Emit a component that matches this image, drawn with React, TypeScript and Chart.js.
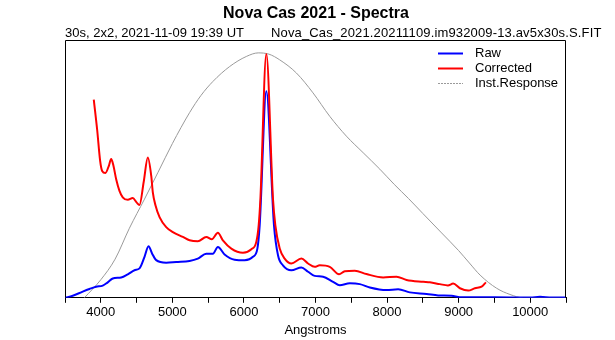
import React, { useEffect, useRef } from "react";
import { Chart, registerables } from "chart.js";

Chart.register(...registerables);

const TITLE = "Nova Cas 2021 - Spectra";
const SUB_LEFT = "30s, 2x2, 2021-11-09 19:39 UT";
const SUB_RIGHT = "Nova_Cas_2021.20211109.im932009-13.av5x30s.S.FIT";
const X_TITLE = "Angstroms";

const X_MIN = 3500;
const X_MAX = 10500;
const X_STEP = 500;
const X_LABEL_STEP = 1000;

const RAW_WL = [3500, 3608, 3748, 3841, 3935, 4027, 4097, 4167, 4285, 4377, 4471, 4541, 4611, 4667, 4718, 4774, 4914, 5054, 5240, 5356, 5474, 5566, 5636, 5730, 5870, 6010, 6126, 6188, 6220, 6313, 6420, 6476, 6545, 6663, 6803, 6896, 6989, 7106, 7245, 7339, 7479, 7619, 7759, 7992, 8155, 8318, 8552, 8714, 8902, 9018, 9500, 10000, 10137, 10300, 10500];
const RAW_VAL = [0, 0.8, 2.4, 3.4, 4.3, 4.7, 6.0, 7.5, 7.9, 9.1, 10.7, 11.4, 15.9, 20.0, 17.1, 14.6, 13.6, 13.9, 14.3, 15.2, 17.1, 17.1, 19.7, 16.8, 14.8, 14.6, 15.9, 19.1, 28.1, 80.1, 28.1, 16.5, 12.6, 10.7, 11.8, 10.1, 8.5, 8.2, 6.2, 4.9, 5.6, 5.3, 4.0, 3.0, 3.3, 2.1, 1.5, 0.9, 0.8, 0.2, 0.2, 0.1, 0.4, 0.1, 0.1];

const COR_WL = [3902, 3950, 3991, 4019, 4065, 4110, 4145, 4177, 4215, 4261, 4307, 4377, 4447, 4500, 4541, 4600, 4657, 4705, 4727, 4765, 4821, 4914, 5007, 5147, 5240, 5356, 5474, 5552, 5636, 5706, 5824, 5986, 6104, 6173, 6206, 6230, 6313, 6406, 6439, 6500, 6569, 6663, 6803, 6896, 6989, 7059, 7199, 7329, 7409, 7549, 7712, 7945, 8132, 8272, 8504, 8598, 8738, 8850, 8924, 9018, 9134, 9227, 9321, 9381];
const COR_VAL = [76.9, 65.0, 53.1, 49.2, 48.4, 51.0, 53.8, 51.2, 46.0, 41.5, 39.0, 38.0, 38.7, 37.0, 36.0, 45.0, 54.4, 47.3, 40.9, 35.8, 31.3, 27.4, 25.5, 23.6, 22.3, 21.9, 23.6, 22.7, 25.2, 22.3, 19.1, 17.5, 18.8, 21.7, 28.1, 38.3, 94.6, 38.3, 28.1, 19.1, 15.2, 13.3, 15.2, 13.3, 12.0, 12.6, 12.0, 9.1, 10.3, 10.5, 9.2, 7.9, 8.2, 6.9, 6.2, 6.0, 5.3, 4.8, 5.5, 3.7, 2.8, 3.7, 4.3, 6.0];

const INST_WL = [3771, 4000, 4200, 4400, 4611, 4800, 5000, 5240, 5400, 5566, 5800, 6033, 6200, 6350, 6500, 6733, 6965, 7199, 7432, 7665, 7899, 8100, 8300, 8500, 8750, 9000, 9150, 9300, 9531, 9717, 9903, 10500];
const INST_VAL = [0, 7.0, 15.0, 27.0, 38.3, 48.7, 59.8, 71.8, 78.5, 83.9, 89.7, 93.6, 95.0, 94.5, 92.3, 87.2, 79.5, 70.4, 62.7, 56.3, 49.9, 44.0, 38.5, 32.7, 25.5, 18.3, 13.5, 8.8, 3.7, 1.3, 0, 0];

const FONT = '"Liberation Sans", Arial, sans-serif';

const toPoints = (xs: number[], ys: number[]) => xs.map((x, i) => ({ x, y: ys[i] }));

const decorPlugin = {
  id: "decor",
  afterDraw(chart: any) {
    const { ctx, chartArea: a } = chart;
    ctx.save();
    // frame
    ctx.strokeStyle = "#000";
    ctx.lineWidth = 1;
    const l = Math.round(a.left) + 0.5;
    const r = Math.round(a.right) - 0.5;
    const t = Math.round(a.top) + 0.5;
    const b = Math.round(a.bottom) - 0.5;
    ctx.beginPath();
    ctx.moveTo(l, b);
    ctx.lineTo(l, t);
    ctx.lineTo(r, t);
    ctx.lineTo(r, b);
    ctx.stroke();

    // titles
    ctx.fillStyle = "#000";
    ctx.textBaseline = "alphabetic";
    ctx.font = `bold 16px ${FONT}`;
    ctx.textAlign = "center";
    ctx.fillText(TITLE, 316, 18);
    ctx.font = `13px ${FONT}`;
    ctx.textAlign = "left";
    ctx.fillText(SUB_LEFT, 65, 37);
    (ctx as any).letterSpacing = "0.15px";
    ctx.fillText(SUB_RIGHT, 271, 37);
    (ctx as any).letterSpacing = "0px";

    // legend
    ctx.font = `13px ${FONT}`;
    ctx.textBaseline = "middle";
    chart.data.datasets.forEach((ds: any, i: number) => {
      const y = Math.round(a.top + 12.7 + i * 15.3) + 0.5;
      ctx.beginPath();
      ctx.strokeStyle = ds.borderColor;
      ctx.lineWidth = i === 2 ? 1 : 2;
      ctx.setLineDash(i === 2 ? [2, 1] : []);
      ctx.moveTo(a.right - 128, y);
      ctx.lineTo(a.right - 103, y);
      ctx.stroke();
      ctx.setLineDash([]);
      ctx.fillStyle = "#000";
      ctx.fillText(ds.label, a.right - 91, y);
    });
    ctx.restore();
  },
};

export default function App() {
  const ref = useRef<HTMLCanvasElement | null>(null);

  useEffect(() => {
    document.body.style.margin = "0";
    const canvas = ref.current;
    if (!canvas) return;
    const chart = new Chart(canvas, {
      type: "line",
      data: {
        datasets: [
          {
            label: "Raw",
            data: toPoints(RAW_WL, RAW_VAL),
            borderColor: "#0000ff",
            borderWidth: 2,
            pointRadius: 0,
            cubicInterpolationMode: "monotone",
            order: 2,
          },
          {
            label: "Corrected",
            data: toPoints(COR_WL, COR_VAL),
            borderColor: "#ff0000",
            borderWidth: 2,
            pointRadius: 0,
            cubicInterpolationMode: "monotone",
            order: 1,
          },
          {
            label: "Inst.Response",
            data: toPoints(INST_WL, INST_VAL),
            borderColor: "#9a9a9a",
            borderWidth: 1,
            pointRadius: 0,
            cubicInterpolationMode: "monotone",
            order: 3,
          },
        ],
      },
      options: {
        responsive: false,
        animation: false,
        devicePixelRatio: 1,
        layout: { padding: { top: 40, left: 65, right: 49, bottom: 0 } },
        font: { family: FONT },
        plugins: {
          legend: { display: false },
          tooltip: { enabled: false },
          title: { display: false },
        },
        scales: {
          x: {
            type: "linear",
            min: X_MIN,
            max: X_MAX,
            ticks: {
              stepSize: X_STEP,
              autoSkip: false,
              maxRotation: 0,
              padding: 2,
              color: "#000",
              font: { family: FONT, size: 13 },
              callback: (v: any) => (Number(v) % X_LABEL_STEP === 0 ? String(v) : ""),
            },
            grid: { drawOnChartArea: false, drawTicks: true, tickLength: 5, color: "#000" },
            border: { display: true, color: "#000", width: 1 },
            title: {
              display: true,
              text: X_TITLE,
              color: "#000",
              font: { family: FONT, size: 13 },
              padding: { top: 0, bottom: 2 },
            },
          },
          y: { display: false, min: 0, max: 100 },
        },
      },
      plugins: [decorPlugin],
    } as any);
    return () => chart.destroy();
  }, []);

  return (
    <div style={{ width: 615, height: 340, background: "#fff" }}>
      <canvas ref={ref} width={615} height={340} style={{ display: "block", width: 615, height: 340 }} />
    </div>
  );
}
